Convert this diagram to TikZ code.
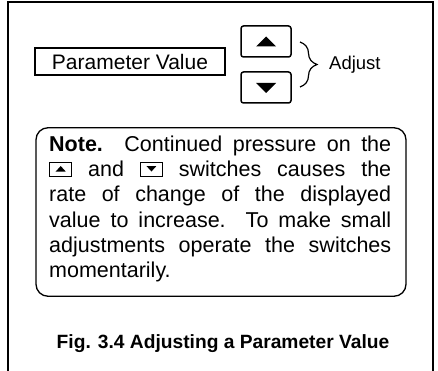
\documentclass[tikz,border=0pt]{standalone}
\usepackage{fontspec}
\setmainfont{Liberation Sans}
\usetikzlibrary{decorations.pathreplacing}
\newcommand\icup{\tikz[baseline=0pt,x=1pt,y=1pt]{\draw[line width=1pt] (0,0) rectangle (22,14); \fill (6,5)--(16,5)--(11,10.5)--cycle;}}
\newcommand\icdn{\tikz[baseline=0pt,x=1pt,y=1pt]{\draw[line width=1pt] (0,0) rectangle (22,14); \fill (6,10.5)--(16,10.5)--(11,5)--cycle;}}
\begin{document}
\begin{tikzpicture}[x=1pt,y=-1pt,
  frame/.style={line width=1.5pt},
  pbox/.style={draw, line width=1.3pt, inner sep=0pt},
  btn/.style={draw, line width=1.5pt, rounded corners=2.5pt, minimum width=50pt, minimum height=31pt, inner sep=0pt},
  txt/.style={inner sep=0pt}]
\useasboundingbox (0,0) rectangle (438,371);
\draw[frame] (8,372) -- (8,2) -- (433,2) -- (433,372);
\node[pbox, minimum width=190pt, minimum height=27pt, font=\fontsize{21}{25}\selectfont] (param) at (130,61.5) {Parameter Value};
\node[btn] (up) at (266,41.5) {};
\fill[shift={(up.center)}] (-10,5) -- (10,5) -- (0,-5) -- cycle;
\node[btn] (dn) at (266,87.5) {};
\fill[shift={(dn.center)}] (-10,-4.5) -- (10,-4.5) -- (0,5.5) -- cycle;
\coordinate (bt) at (300,42);
\coordinate (bb) at (300,87);
\draw[line width=1.2pt, decorate, decoration={brace, amplitude=17pt}] (bt) -- (bb);
\node[txt, anchor=base west, font=\fontsize{18.5}{22}\selectfont] (adj) at (329,69.3) {Adjust};
\node[draw, line width=1.3pt, rounded corners=12pt, minimum width=370pt, minimum height=168.5pt, inner sep=0pt] (notebox) at (221,212) {};
\node[txt, anchor=north west, text width=342pt, align=justify, font=\fontsize{21.5}{25.3}\selectfont] (note) at (49,133.3)
 {\noindent\strut\textbf{Note.} Continued pressure on the\linebreak
  \icup{} and \icdn{} switches causes the\linebreak
  rate of change of the displayed\linebreak
  value to increase. To make small\linebreak
  adjustments operate the switches\linebreak
  momentarily.};
\node[txt, anchor=base, font=\bfseries\fontsize{19.2}{23}\selectfont] (cap) at (223,348) {Fig. 3.4 Adjusting a Parameter Value};
\end{tikzpicture}
\end{document}
